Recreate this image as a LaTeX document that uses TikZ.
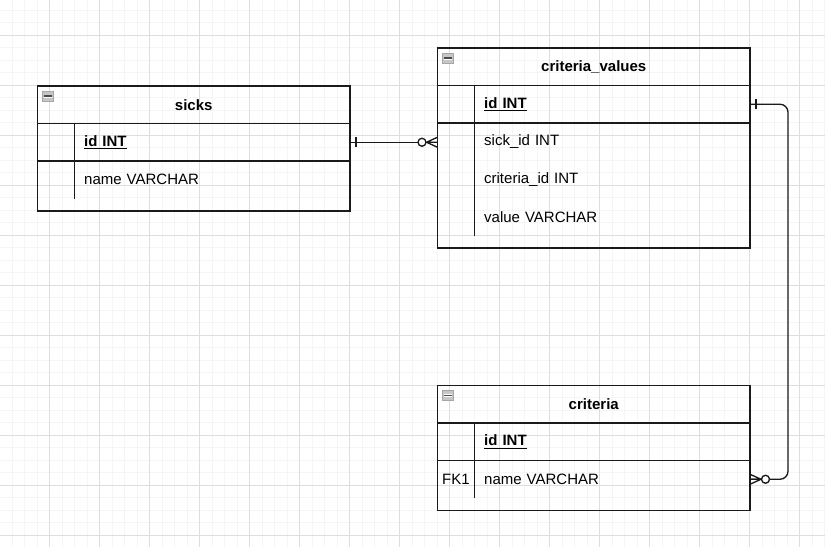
\documentclass[tikz,border=0pt]{standalone}
\usepackage{fontspec}
\setmainfont{Liberation Sans}
\usetikzlibrary{positioning}

\definecolor{gridminor}{HTML}{F5F5F5}
\definecolor{gridmajor}{HTML}{DEDEDE}
\definecolor{edgeline}{HTML}{1A1A1A}

\begin{document}
\begin{tikzpicture}[x=0.75pt,y=-0.75pt,every node/.style={outer sep=0pt},
 font=\fontsize{11.25}{13}\selectfont,
 tblhead/.style={draw=edgeline,line width=1pt,minimum width=234.375pt,
 minimum height=28.125pt,inner sep=0pt,anchor=north west,font=\fontsize{11.25}{13}\selectfont\bfseries},
 tblrow/.style={minimum width=234.375pt,minimum height=28.125pt,inner xsep=35pt,
 inner ysep=0pt,text width=164.375pt,align=left},
 frame/.style={draw=edgeline,line width=1pt},
 relation/.style={draw=edgeline,line width=1pt},
 onemark/.pic={\draw[edgeline,line width=1pt] (6,-5) -- (6,5);},
 zeromany/.pic={\draw[edgeline,line width=1pt] (11,0) -- (0,-5) (11,0) -- (0,5) (11,0) -- (0,0);
 \draw[edgeline,line width=1pt,fill=white] (15.5,0) circle[radius=4];},
 minusbox/.pic={\draw[gray!70,fill=gray!45] (5,5) rectangle (16,15);
 \fill[white] (6.5,8.5) rectangle (14.5,11.5);
 \draw[black!70,line width=0.8pt] (6.5,10) -- (14.5,10);}]

  \useasboundingbox (0,0) rectangle (825,547);
  % background grid
  \fill[white] (0,0) rectangle (825,547);
  \foreach \X in {1,...,66} \draw[gridminor,line width=0.6pt] (\X*12.5-0.5,0) -- (\X*12.5-0.5,547);
  \foreach \Y in {1,...,43} \draw[gridminor,line width=0.6pt] (0,\Y*12.5-2.5) -- (825,\Y*12.5-2.5);
  \foreach \X in {1,...,16} \draw[gridmajor,line width=0.6pt] (\X*50-0.5,0) -- (\X*50-0.5,547);
  \foreach \Y in {0,...,10} \draw[gridmajor,line width=0.6pt] (0,\Y*50+35) -- (825,\Y*50+35);

  % sicks
  \node[tblhead] (sh) at (37.5,86) {sicks};
  \node[tblrow,below=0pt of sh] (si) {\underline{\textbf{id INT}}};
  \node[tblrow,below=0pt of si] (sn) {name VARCHAR};
  \draw[frame] (sh.north west) rectangle ([yshift=-9.375pt]sn.south east);
  \draw[frame] (si.south west) -- (si.south east);
  \draw[frame] ([xshift=27.75pt]si.north west) -- ([xshift=27.75pt]sn.south west);
  \pic at (sh.north west) {minusbox};

  % criteria_values
  \node[tblhead] (cvh) at (437.5,48) {criteria\_values};
  \node[tblrow,below=0pt of cvh] (cvi) {\underline{\textbf{id INT}}};
  \node[tblrow,below=0pt of cvi] (cvs) {sick\_id INT};
  \node[tblrow,below=0pt of cvs] (cvc) {criteria\_id INT};
  \node[tblrow,below=0pt of cvc] (cvv) {value VARCHAR};
  \draw[frame] (cvh.north west) rectangle ([yshift=-9.375pt]cvv.south east);
  \draw[frame,line width=1.6pt] (cvi.south west) -- (cvi.south east);
  \draw[frame] ([xshift=27.75pt]cvi.north west) -- ([xshift=27.75pt]cvv.south west);
  \pic at (cvh.north west) {minusbox};

  % criteria
  \node[tblhead] (crh) at (437.5,385.5) {criteria};
  \node[tblrow,below=0pt of crh] (cri) {\underline{\textbf{id INT}}};
  \node[tblrow,below=0pt of cri] (crn) {name VARCHAR};
  \node (crfk) at ([xshift=13.875pt]crn.west) {FK1};
  \draw[frame] (crh.north west) rectangle ([yshift=-9.375pt]crn.south east);
  \draw[frame] (cri.south west) -- (cri.south east);
  \draw[frame] ([xshift=27.75pt]cri.north west) -- ([xshift=27.75pt]crn.south west);
  \pic at (crh.north west) {minusbox};

  % relations
  \draw[relation] (si.east) -- (si.east -| cvs.west);
  \pic at (si.east) {onemark};
  \pic[xscale=-1] at (si.east -| cvs.west) {zeromany};

  \draw[relation,rounded corners=6pt] (cvi.east) -- ++(38,0) |- (crn.east);
  \pic at (cvi.east) {onemark};
  \pic at (crn.east) {zeromany};
\end{tikzpicture}
\end{document}
